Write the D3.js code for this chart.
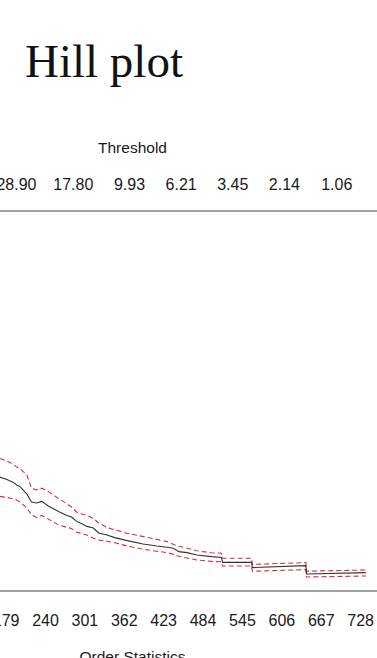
<!DOCTYPE html>
<html>
<head>
<meta charset="utf-8">
<script src="https://cdn.jsdelivr.net/npm/d3@7"></script>
<style>
  body { margin: 0; background: #fff; }
  svg { display: block; }
</style>
</head>
<body>
<svg id="viz" width="377" height="658"></svg>
<script>
// order statistics k (x) and Hill estimate with 95% band
const orderStats = [170, 181, 191, 196, 201, 212, 219, 227, 235, 245, 261, 274, 281, 289, 297, 305,
  315, 323, 336, 348, 367, 392, 413, 429, 439, 447, 460, 475, 498, 513, 515, 560, 561, 644, 645, 737];
const hillEst = [0.570, 0.558, 0.543, 0.530, 0.523, 0.485, 0.445, 0.440, 0.448, 0.425, 0.398, 0.378,
  0.370, 0.348, 0.336, 0.323, 0.315, 0.290, 0.280, 0.267, 0.252, 0.235, 0.225, 0.219, 0.214, 0.197,
  0.192, 0.180, 0.172, 0.168, 0.143, 0.144, 0.117, 0.127, 0.085, 0.092];
const ciUpper = [0.663, 0.650, 0.633, 0.620, 0.613, 0.580, 0.513, 0.505, 0.514, 0.497, 0.463, 0.435,
  0.420, 0.395, 0.385, 0.378, 0.363, 0.340, 0.318, 0.306, 0.289, 0.272, 0.258, 0.247, 0.233, 0.224,
  0.214, 0.201, 0.191, 0.189, 0.164, 0.164, 0.133, 0.142, 0.099, 0.105];
const ciLower = [0.473, 0.468, 0.460, 0.455, 0.445, 0.415, 0.380, 0.368, 0.378, 0.360, 0.330, 0.318,
  0.313, 0.294, 0.288, 0.280, 0.264, 0.255, 0.249, 0.241, 0.225, 0.209, 0.199, 0.192, 0.183, 0.174,
  0.165, 0.155, 0.148, 0.146, 0.125, 0.125, 0.099, 0.107, 0.070, 0.075];

// axis labels
const orderTicks = [179, 240, 301, 362, 423, 484, 545, 606, 667, 728];
const thresholdAt = [195, 283, 370, 450, 530, 610, 691];
const thresholdLabels = ["28.90", "17.80", "9.93", "6.21", "3.45", "2.14", "1.06"];

const xLimits = [-14, 765];
const yLimits = [0, 1.9];

const svg = d3.select("#viz");
const font = "'Liberation Sans', Arial, Helvetica, sans-serif";

// plot box (cropped on the left and right in the reference)
const x = d3.scaleLinear().domain(xLimits).range([-119, 384]);
const y = d3.scaleLinear().domain(yLimits).range([591, 211]);

// title
svg.append("text")
  .attr("x", 25).attr("y", 77)
  .attr("font-family", "'Liberation Serif', 'Times New Roman', serif")
  .attr("font-size", 47)
  .attr("fill", "#111")
  .text("Hill plot");

// box lines
svg.append("rect")
  .attr("x", x.range()[0]).attr("y", y.range()[1])
  .attr("width", x.range()[1] - x.range()[0])
  .attr("height", y.range()[0] - y.range()[1])
  .attr("fill", "none")
  .attr("stroke", "#8a8a8a")
  .attr("stroke-width", 1.6);

const rows = orderStats.map((k, i) => ({ k, est: hillEst[i], up: ciUpper[i], lo: ciLower[i] }));

const lineOf = key => d3.line().x(d => x(d.k)).y(d => y(d[key]));

// confidence band
["up", "lo"].forEach(key => {
  svg.append("path")
    .datum(rows)
    .attr("d", lineOf(key))
    .attr("fill", "none")
    .attr("stroke", "#e8282c")
    .attr("stroke-width", 1.1)
    .attr("stroke-dasharray", "5,3");
});

// estimate
svg.append("path")
  .datum(rows)
  .attr("d", lineOf("est"))
  .attr("fill", "none")
  .attr("stroke", "#333")
  .attr("stroke-width", 1.1);

// bottom axis: order statistics
const axisB = svg.append("g")
  .attr("transform", `translate(0,${y.range()[0]})`)
  .call(d3.axisBottom(x).tickValues(orderTicks).tickSize(0).tickPadding(24));
axisB.select(".domain").remove();
axisB.selectAll("text")
  .attr("font-family", font).attr("font-size", 16).attr("fill", "#1a1a1a");

// top axis: thresholds
const axisT = svg.append("g")
  .attr("transform", `translate(0,${y.range()[1]})`)
  .call(d3.axisTop(x).tickValues(thresholdAt).tickSize(0).tickPadding(21)
    .tickFormat((d, i) => thresholdLabels[i]));
axisT.select(".domain").remove();
axisT.selectAll("text")
  .attr("font-family", font).attr("font-size", 16).attr("fill", "#1a1a1a");

const midX = (x.range()[0] + x.range()[1]) / 2;

svg.append("text")
  .attr("x", midX).attr("y", 153)
  .attr("text-anchor", "middle")
  .attr("font-family", font).attr("font-size", 15.5).attr("fill", "#1a1a1a")
  .text("Threshold");

svg.append("text")
  .attr("x", midX).attr("y", 662)
  .attr("text-anchor", "middle")
  .attr("font-family", font).attr("font-size", 15.5).attr("fill", "#1a1a1a")
  .text("Order Statistics");
</script>
</body>
</html>
